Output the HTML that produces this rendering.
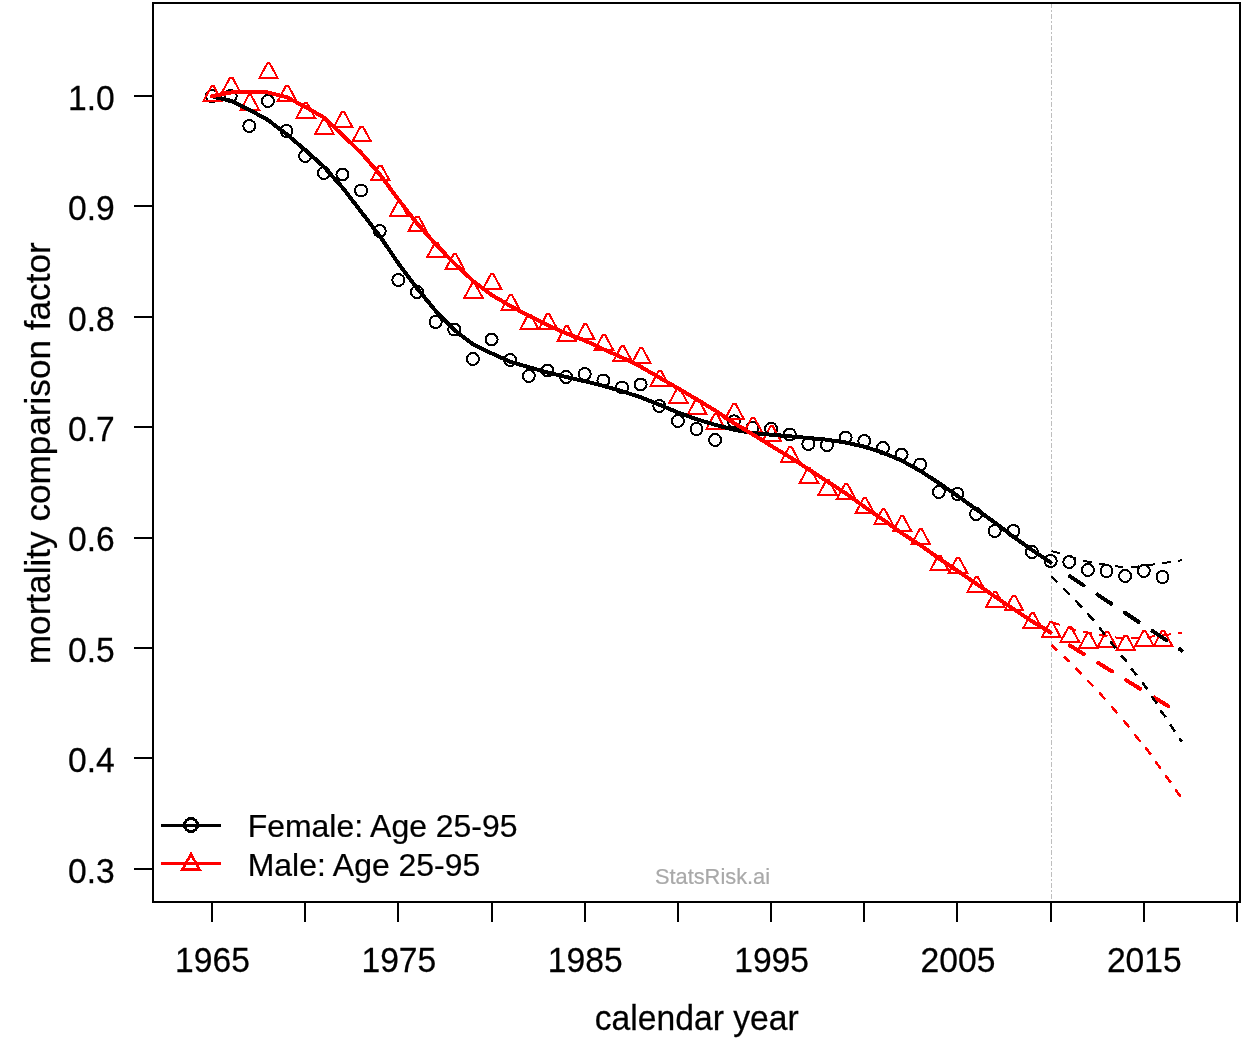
<!DOCTYPE html>
<html><head><meta charset="utf-8"><title>mortality comparison factor</title>
<style>
html,body{margin:0;padding:0;background:#fff;}
svg{display:block;}
text{font-family:"Liberation Sans",sans-serif;fill:#000;stroke:#000;stroke-width:0.25px;}
</style></head><body>
<svg width="1248" height="1056" viewBox="0 0 1248 1056" shape-rendering="crispEdges">
<rect width="1248" height="1056" fill="#fff"/>
<line x1="1051.5" y1="3" x2="1051.5" y2="902" stroke="#bebebe" stroke-width="1" stroke-dasharray="5 2 2 2" shape-rendering="crispEdges"/>
<g fill="none" stroke="#000" stroke-width="2">
<circle cx="212.00" cy="96.00" r="6"/><circle cx="230.64" cy="96.00" r="6"/><circle cx="249.27" cy="126.00" r="6"/><circle cx="267.91" cy="101.00" r="6"/><circle cx="286.54" cy="131.00" r="6"/><circle cx="305.18" cy="156.00" r="6"/><circle cx="323.82" cy="173.00" r="6"/><circle cx="342.45" cy="174.50" r="6"/><circle cx="361.09" cy="190.50" r="6"/><circle cx="379.72" cy="231.00" r="6"/><circle cx="398.36" cy="280.00" r="6"/><circle cx="417.00" cy="292.00" r="6"/><circle cx="435.63" cy="322.00" r="6"/><circle cx="454.27" cy="329.50" r="6"/><circle cx="472.90" cy="359.00" r="6"/><circle cx="491.54" cy="339.50" r="6"/><circle cx="510.18" cy="360.00" r="6"/><circle cx="528.81" cy="376.00" r="6"/><circle cx="547.45" cy="370.50" r="6"/><circle cx="566.08" cy="377.00" r="6"/><circle cx="584.72" cy="374.00" r="6"/><circle cx="603.36" cy="380.50" r="6"/><circle cx="621.99" cy="387.50" r="6"/><circle cx="640.63" cy="384.50" r="6"/><circle cx="659.26" cy="406.00" r="6"/><circle cx="677.90" cy="421.00" r="6"/><circle cx="696.54" cy="429.00" r="6"/><circle cx="715.17" cy="440.00" r="6"/><circle cx="733.81" cy="421.30" r="6"/><circle cx="752.44" cy="428.00" r="6"/><circle cx="771.08" cy="428.75" r="6"/><circle cx="789.72" cy="434.50" r="6"/><circle cx="808.35" cy="444.00" r="6"/><circle cx="826.99" cy="445.00" r="6"/><circle cx="845.62" cy="437.50" r="6"/><circle cx="864.26" cy="441.00" r="6"/><circle cx="882.90" cy="448.00" r="6"/><circle cx="901.53" cy="454.50" r="6"/><circle cx="920.17" cy="464.50" r="6"/><circle cx="938.80" cy="492.00" r="6"/><circle cx="957.44" cy="494.00" r="6"/><circle cx="976.08" cy="514.00" r="6"/><circle cx="994.71" cy="531.00" r="6"/><circle cx="1013.35" cy="531.00" r="6"/><circle cx="1031.98" cy="552.00" r="6"/><circle cx="1050.62" cy="561.00" r="6"/><circle cx="1069.26" cy="562.00" r="6"/><circle cx="1087.89" cy="570.00" r="6"/><circle cx="1106.53" cy="571.00" r="6"/><circle cx="1125.16" cy="576.00" r="6"/><circle cx="1143.80" cy="571.00" r="6"/><circle cx="1162.44" cy="577.00" r="6"/>
</g>
<g fill="none" stroke="#f00" stroke-width="2" stroke-linejoin="miter">
<path d="M211.45 86.20 L213.75 86.20 L221.69 100.95 L203.51 100.95 Z M230.09 77.50 L232.39 77.50 L240.33 92.25 L222.14 92.25 Z M248.72 95.00 L251.02 95.00 L258.97 109.75 L240.78 109.75 Z M267.36 63.20 L269.66 63.20 L277.60 77.95 L259.41 77.95 Z M285.99 85.75 L288.29 85.75 L296.24 100.50 L278.05 100.50 Z M304.63 102.75 L306.93 102.75 L314.87 117.50 L296.69 117.50 Z M323.27 119.00 L325.57 119.00 L333.51 133.75 L315.32 133.75 Z M341.90 111.90 L344.20 111.90 L352.15 126.65 L333.96 126.65 Z M360.54 126.50 L362.84 126.50 L370.78 141.25 L352.59 141.25 Z M379.17 165.50 L381.47 165.50 L389.42 180.25 L371.23 180.25 Z M397.81 201.50 L400.11 201.50 L408.05 216.25 L389.87 216.25 Z M416.45 216.50 L418.75 216.50 L426.69 231.25 L408.50 231.25 Z M435.08 242.50 L437.38 242.50 L445.33 257.25 L427.14 257.25 Z M453.72 254.10 L456.02 254.10 L463.96 268.85 L445.77 268.85 Z M472.35 283.00 L474.65 283.00 L482.60 297.75 L464.41 297.75 Z M490.99 274.00 L493.29 274.00 L501.23 288.75 L483.05 288.75 Z M509.63 294.90 L511.93 294.90 L519.87 309.65 L501.68 309.65 Z M528.26 314.50 L530.56 314.50 L538.51 329.25 L520.32 329.25 Z M546.90 314.00 L549.20 314.00 L557.14 328.75 L538.95 328.75 Z M565.53 326.25 L567.83 326.25 L575.78 341.00 L557.59 341.00 Z M584.17 324.25 L586.47 324.25 L594.41 339.00 L576.23 339.00 Z M602.81 335.00 L605.11 335.00 L613.05 349.75 L594.86 349.75 Z M621.44 346.00 L623.74 346.00 L631.69 360.75 L613.50 360.75 Z M640.08 348.00 L642.38 348.00 L650.32 362.75 L632.13 362.75 Z M658.71 370.75 L661.01 370.75 L668.96 385.50 L650.77 385.50 Z M677.35 388.00 L679.65 388.00 L687.59 402.75 L669.41 402.75 Z M695.99 399.00 L698.29 399.00 L706.23 413.75 L688.04 413.75 Z M714.62 413.75 L716.92 413.75 L724.87 428.50 L706.68 428.50 Z M733.26 403.75 L735.56 403.75 L743.50 418.50 L725.31 418.50 Z M751.89 417.50 L754.19 417.50 L762.14 432.25 L743.95 432.25 Z M770.53 426.25 L772.83 426.25 L780.77 441.00 L762.59 441.00 Z M789.17 446.75 L791.47 446.75 L799.41 461.50 L781.22 461.50 Z M807.80 468.00 L810.10 468.00 L818.05 482.75 L799.86 482.75 Z M826.44 480.00 L828.74 480.00 L836.68 494.75 L818.49 494.75 Z M845.07 483.75 L847.37 483.75 L855.32 498.50 L837.13 498.50 Z M863.71 498.00 L866.01 498.00 L873.95 512.75 L855.77 512.75 Z M882.35 509.25 L884.65 509.25 L892.59 524.00 L874.40 524.00 Z M900.98 516.25 L903.28 516.25 L911.23 531.00 L893.04 531.00 Z M919.62 529.25 L921.92 529.25 L929.86 544.00 L911.67 544.00 Z M938.25 555.50 L940.55 555.50 L948.50 570.25 L930.31 570.25 Z M956.89 557.80 L959.19 557.80 L967.13 572.55 L948.95 572.55 Z M975.53 577.00 L977.83 577.00 L985.77 591.75 L967.58 591.75 Z M994.16 592.00 L996.46 592.00 L1004.41 606.75 L986.22 606.75 Z M1012.80 595.50 L1015.10 595.50 L1023.04 610.25 L1004.85 610.25 Z M1031.43 613.00 L1033.73 613.00 L1041.68 627.75 L1023.49 627.75 Z M1050.07 622.00 L1052.37 622.00 L1060.31 636.75 L1042.13 636.75 Z M1068.71 626.75 L1071.01 626.75 L1078.95 641.50 L1060.76 641.50 Z M1087.34 633.00 L1089.64 633.00 L1097.59 647.75 L1079.40 647.75 Z M1105.98 631.75 L1108.28 631.75 L1116.22 646.50 L1098.03 646.50 Z M1124.61 635.50 L1126.91 635.50 L1134.86 650.25 L1116.67 650.25 Z M1143.25 631.00 L1145.55 631.00 L1153.49 645.75 L1135.31 645.75 Z M1161.89 631.00 L1164.19 631.00 L1172.13 645.75 L1153.94 645.75 Z"/>
</g>
<g fill="none" stroke-linecap="butt" stroke-linejoin="round">
<path d="M212.00 96.20 L230.64 100.80 L249.27 109.70 L267.91 120.00 L286.54 134.20 L305.18 150.00 L323.82 166.70 L342.45 187.50 L361.09 211.70 L379.72 236.00 L398.36 263.30 L417.00 288.30 L435.63 310.80 L454.27 330.00 L472.90 344.20 L491.54 353.30 L510.18 361.70 L528.81 367.20 L547.45 372.50 L566.08 377.00 L584.72 381.20 L603.36 385.80 L621.99 391.30 L640.63 397.20 L659.26 404.70 L677.90 412.50 L696.54 419.20 L715.17 424.80 L733.81 429.70 L752.44 433.00 L771.08 434.70 L789.72 436.30 L808.35 438.00 L826.99 439.70 L845.62 442.50 L864.26 446.70 L882.90 452.70 L901.53 460.50 L920.17 470.80 L938.80 483.00 L957.44 495.80 L976.08 509.20 L994.71 522.50 L1013.35 536.70 L1031.98 550.00 L1050.62 562.50" stroke="#000" stroke-width="4" stroke-linecap="round"/>
<path d="M212.00 96.20 L230.64 92.50 L249.27 91.80 L267.91 92.50 L286.54 97.20 L305.18 106.70 L323.82 117.50 L342.45 135.00 L361.09 152.80 L379.72 174.20 L398.36 199.50 L417.00 223.30 L435.63 244.20 L454.27 263.30 L472.90 280.80 L491.54 295.00 L510.18 305.80 L528.81 315.80 L547.45 325.00 L566.08 333.30 L584.72 340.50 L603.36 349.20 L621.99 357.50 L640.63 366.70 L659.26 377.50 L677.90 388.30 L696.54 399.20 L715.17 410.50 L733.81 423.00 L752.44 434.20 L771.08 445.80 L789.72 457.00 L808.35 469.20 L826.99 481.20 L845.62 493.30 L864.26 506.70 L882.90 519.60 L901.53 533.00 L920.17 545.00 L938.80 558.30 L957.44 570.80 L976.08 583.60 L994.71 596.50 L1013.35 609.00 L1031.98 621.30 L1050.62 632.50" stroke="#f00" stroke-width="4" stroke-linecap="round"/>
<path d="M1069.90 645.50 L1181.80 714.50" stroke="#f00" stroke-width="4" stroke-dasharray="16.5 16.5" stroke-linecap="round"/>
<path d="M1051.50 622.33 L1059.90 624.77 M1067.35 627.57 L1075.75 630.21 M1083.20 631.59 L1091.60 633.28 M1099.05 634.86 L1107.45 636.35 M1114.90 637.45 L1123.30 637.90 M1130.75 637.90 L1139.15 637.55 M1146.60 637.03 L1155.00 636.24 M1162.45 635.40 L1170.85 634.26 M1178.30 633.13 L1182.30 632.60" stroke="#f00" stroke-width="2"/>
<path d="M1051.50 645.00 L1057.30 650.50 M1064.10 656.60 L1069.80 662.00 M1075.50 668.00 L1081.50 674.00 M1087.30 680.50 L1093.30 686.50 M1099.20 692.40 L1105.30 699.50 M1111.30 706.20 L1117.40 713.30 M1123.40 720.40 L1129.50 727.50 M1134.30 734.10 L1140.40 741.70 M1145.40 747.40 L1150.80 754.50 M1155.30 761.10 L1160.60 768.70 M1165.30 775.30 L1170.70 782.40 M1175.20 789.30 L1180.60 796.60" stroke="#f00" stroke-width="2.5"/>
<path d="M1069.90 576.30 L1181.80 650.50" stroke="#000" stroke-width="4" stroke-dasharray="16.5 16.5" stroke-linecap="round"/>
<path d="M1051.50 551.22 L1059.90 553.18 M1067.35 555.63 L1075.75 558.34 M1083.20 560.63 L1091.60 562.49 M1099.05 563.61 L1107.45 564.97 M1114.90 566.26 L1123.30 566.90 M1130.75 567.04 L1139.15 566.42 M1146.60 565.45 L1155.00 564.28 M1162.45 563.21 L1170.85 561.93 M1178.30 560.75 L1182.30 560.20" stroke="#000" stroke-width="2"/>
<path d="M1051.50 576.30 L1057.30 582.50 M1063.30 588.30 L1069.80 594.70 M1075.30 600.30 L1081.80 607.40 M1087.20 613.20 L1093.80 620.50 M1099.20 627.30 L1104.70 634.60 M1110.10 641.20 L1115.60 648.30 M1121.00 655.40 L1126.70 661.50 M1131.20 668.50 L1136.60 675.30 M1142.30 682.40 L1147.50 689.50 M1151.40 696.20 L1156.80 703.30 M1160.30 710.40 L1165.70 717.20 M1170.30 724.60 L1174.80 731.40 M1179.20 738.10 L1182.00 741.70" stroke="#000" stroke-width="2.5"/>
</g>
<g stroke="#000" stroke-width="2" fill="none" shape-rendering="crispEdges">
<rect x="153" y="3" width="1087" height="899"/>
<line x1="212.0" y1="902" x2="212.0" y2="922"/><line x1="305.2" y1="902" x2="305.2" y2="922"/><line x1="398.4" y1="902" x2="398.4" y2="922"/><line x1="491.5" y1="902" x2="491.5" y2="922"/><line x1="584.7" y1="902" x2="584.7" y2="922"/><line x1="677.9" y1="902" x2="677.9" y2="922"/><line x1="771.1" y1="902" x2="771.1" y2="922"/><line x1="864.3" y1="902" x2="864.3" y2="922"/><line x1="957.4" y1="902" x2="957.4" y2="922"/><line x1="1050.6" y1="902" x2="1050.6" y2="922"/><line x1="1143.8" y1="902" x2="1143.8" y2="922"/><line x1="1237.0" y1="902" x2="1237.0" y2="922"/><line x1="134" y1="96.0" x2="153" y2="96.0"/><line x1="134" y1="206.4" x2="153" y2="206.4"/><line x1="134" y1="316.8" x2="153" y2="316.8"/><line x1="134" y1="427.2" x2="153" y2="427.2"/><line x1="134" y1="537.6" x2="153" y2="537.6"/><line x1="134" y1="648.0" x2="153" y2="648.0"/><line x1="134" y1="758.4" x2="153" y2="758.4"/><line x1="134" y1="868.8" x2="153" y2="868.8"/>
</g>
<text transform="translate(212.50,972.20) scale(0.9350,1)" font-size="36" text-anchor="middle">1965</text><text transform="translate(398.86,972.20) scale(0.9350,1)" font-size="36" text-anchor="middle">1975</text><text transform="translate(585.22,972.20) scale(0.9350,1)" font-size="36" text-anchor="middle">1985</text><text transform="translate(771.58,972.20) scale(0.9350,1)" font-size="36" text-anchor="middle">1995</text><text transform="translate(957.94,972.20) scale(0.9350,1)" font-size="36" text-anchor="middle">2005</text><text transform="translate(1144.30,972.20) scale(0.9350,1)" font-size="36" text-anchor="middle">2015</text>
<text transform="translate(114.70,109.70) scale(0.9350,1)" font-size="36" text-anchor="end">1.0</text><text transform="translate(114.70,220.10) scale(0.9350,1)" font-size="36" text-anchor="end">0.9</text><text transform="translate(114.70,330.50) scale(0.9350,1)" font-size="36" text-anchor="end">0.8</text><text transform="translate(114.70,440.90) scale(0.9350,1)" font-size="36" text-anchor="end">0.7</text><text transform="translate(114.70,551.30) scale(0.9350,1)" font-size="36" text-anchor="end">0.6</text><text transform="translate(114.70,661.70) scale(0.9350,1)" font-size="36" text-anchor="end">0.5</text><text transform="translate(114.70,772.10) scale(0.9350,1)" font-size="36" text-anchor="end">0.4</text><text transform="translate(114.70,882.50) scale(0.9350,1)" font-size="36" text-anchor="end">0.3</text>
<text transform="translate(696.70,1030.00) scale(0.9620,1)" font-size="35" text-anchor="middle">calendar year</text>
<text transform="translate(50.1,453.25) rotate(-90) scale(1.0045,1)" font-size="35" text-anchor="middle">mortality comparison factor</text>
<g fill="none" stroke-width="3" stroke-linecap="round">
<line x1="162.5" y1="825.5" x2="219.5" y2="825.5" stroke="#000"/><line x1="162.5" y1="863.5" x2="219.5" y2="863.5" stroke="#f00"/><circle cx="191" cy="825" r="6.5" stroke="#000"/><path d="M191 854.2 L199.4 869.3 L182.6 869.3 Z" stroke="#f00" stroke-width="2.7" stroke-linejoin="miter"/>
</g>
<text transform="translate(247.70,837.30) scale(0.9980,1)" font-size="32" text-anchor="start">Female: Age 25-95</text>
<text transform="translate(247.70,875.60) scale(0.9980,1)" font-size="32" text-anchor="start">Male: Age 25-95</text>
<text transform="translate(712.50,884.00) scale(1.0200,1)" font-size="21.4" text-anchor="middle" style="fill:#a9a9a9;stroke:#a9a9a9;stroke-width:0.2px">StatsRisk.ai</text>
</svg>
</body></html>
